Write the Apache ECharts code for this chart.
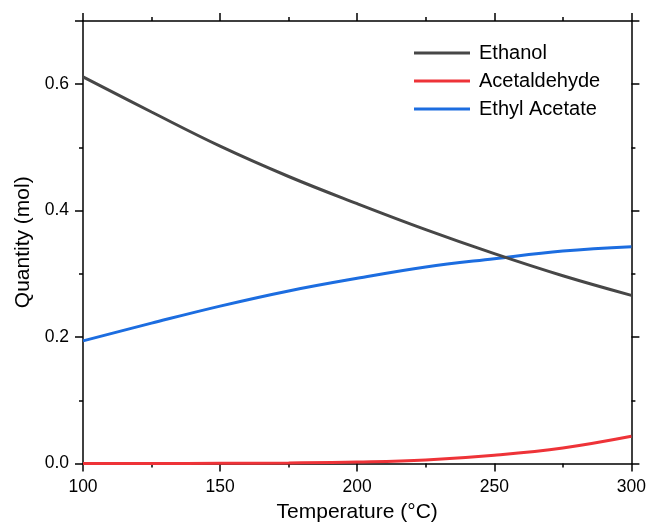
<!DOCTYPE html>
<html>
<head>
<meta charset="utf-8">
<script src="https://cdn.jsdelivr.net/npm/echarts@6/dist/echarts.min.js"></script>
<style>html,body{margin:0;padding:0;background:#fff;}#c{width:649px;height:528px;}</style>
</head>
<body>
<div id="c"></div>
<script>
const temps = [100, 125, 150, 175, 200, 225, 250, 275, 300];
const ethanol = [0.6115, 0.556, 0.502, 0.454, 0.411, 0.370, 0.332, 0.297, 0.266];
const acetaldehyde = [0.0000, 0.0001, 0.0003, 0.0009, 0.0023, 0.0055, 0.0130, 0.0245, 0.0430];
const ethylAcetate = [0.194, 0.222, 0.249, 0.273, 0.293, 0.311, 0.324, 0.336, 0.343];
const seriesNames = ['Ethanol', 'Acetaldehyde', 'Ethyl Acetate'];
const colors = ['#474747', '#ee3338', '#1c6de0'];

const font = 'Liberation Sans, Arial, sans-serif';
const pair = arr => temps.map((t, i) => [t, arr[i]]);
const seriesData = [ethanol, acetaldehyde, ethylAcetate];

const axisLine = () => ({ show: true, onZero: false, lineStyle: { color: '#000', width: 1.5 } });
const tick = () => ({ show: true, inside: false, length: 8, lineStyle: { color: '#000', width: 1.5 } });
const minor = () => ({ show: true, splitNumber: 2, length: 4, lineStyle: { color: '#000', width: 1.5 } });

const chart = echarts.init(document.getElementById('c'));
chart.setOption({
  animation: false,
  backgroundColor: '#fff',
  grid: { left: 83, right: 16, top: 21, bottom: 64.5 },
  legend: {
    orient: 'vertical', left: 409, top: 38, itemWidth: 56, itemHeight: 3, itemGap: 8,
    icon: 'rect',
    textStyle: { fontFamily: font, fontSize: 20, color: '#000', padding: [0, 0, 0, 4] },
    data: seriesNames
  },
  xAxis: [
    { type: 'value', min: 100, max: 300, interval: 50, position: 'bottom',
      name: 'Temperature (°C)', nameLocation: 'middle', nameGap: 37,
      nameTextStyle: { fontFamily: font, fontSize: 21, color: '#000' },
      axisLine: axisLine(), axisTick: tick(), minorTick: minor(), splitLine: { show: false },
      axisLabel: { fontFamily: font, fontSize: 17.5, color: '#000', margin: 15 } },
    { type: 'value', min: 100, max: 300, interval: 50, position: 'top',
      axisLine: axisLine(), axisTick: tick(), minorTick: minor(), splitLine: { show: false },
      axisLabel: { show: false } }
  ],
  yAxis: [
    { type: 'value', min: 0, max: 0.7, interval: 0.2, position: 'left',
      name: 'Quantity (mol)', nameLocation: 'middle', nameGap: 49,
      nameTextStyle: { fontFamily: font, fontSize: 21, color: '#000' },
      axisLine: axisLine(), axisTick: tick(), minorTick: minor(), splitLine: { show: false },
      axisLabel: { fontFamily: font, fontSize: 17.5, color: '#000', margin: 14, showMaxLabel: false,
        formatter: v => v.toFixed(1) } },
    { type: 'value', min: 0, max: 0.7, interval: 0.2, position: 'right',
      axisLine: axisLine(), axisTick: tick(), minorTick: minor(), splitLine: { show: false },
      axisLabel: { show: false } }
  ],
  series: seriesNames.map((n, i) => ({
    name: n, type: 'line', smooth: 0.4, symbol: 'none', xAxisIndex: 0, yAxisIndex: 0,
    data: pair(seriesData[i]),
    lineStyle: { color: colors[i], width: 3 }, itemStyle: { color: colors[i] }, z: 3 - i
  }))
});
</script>
</body>
</html>
